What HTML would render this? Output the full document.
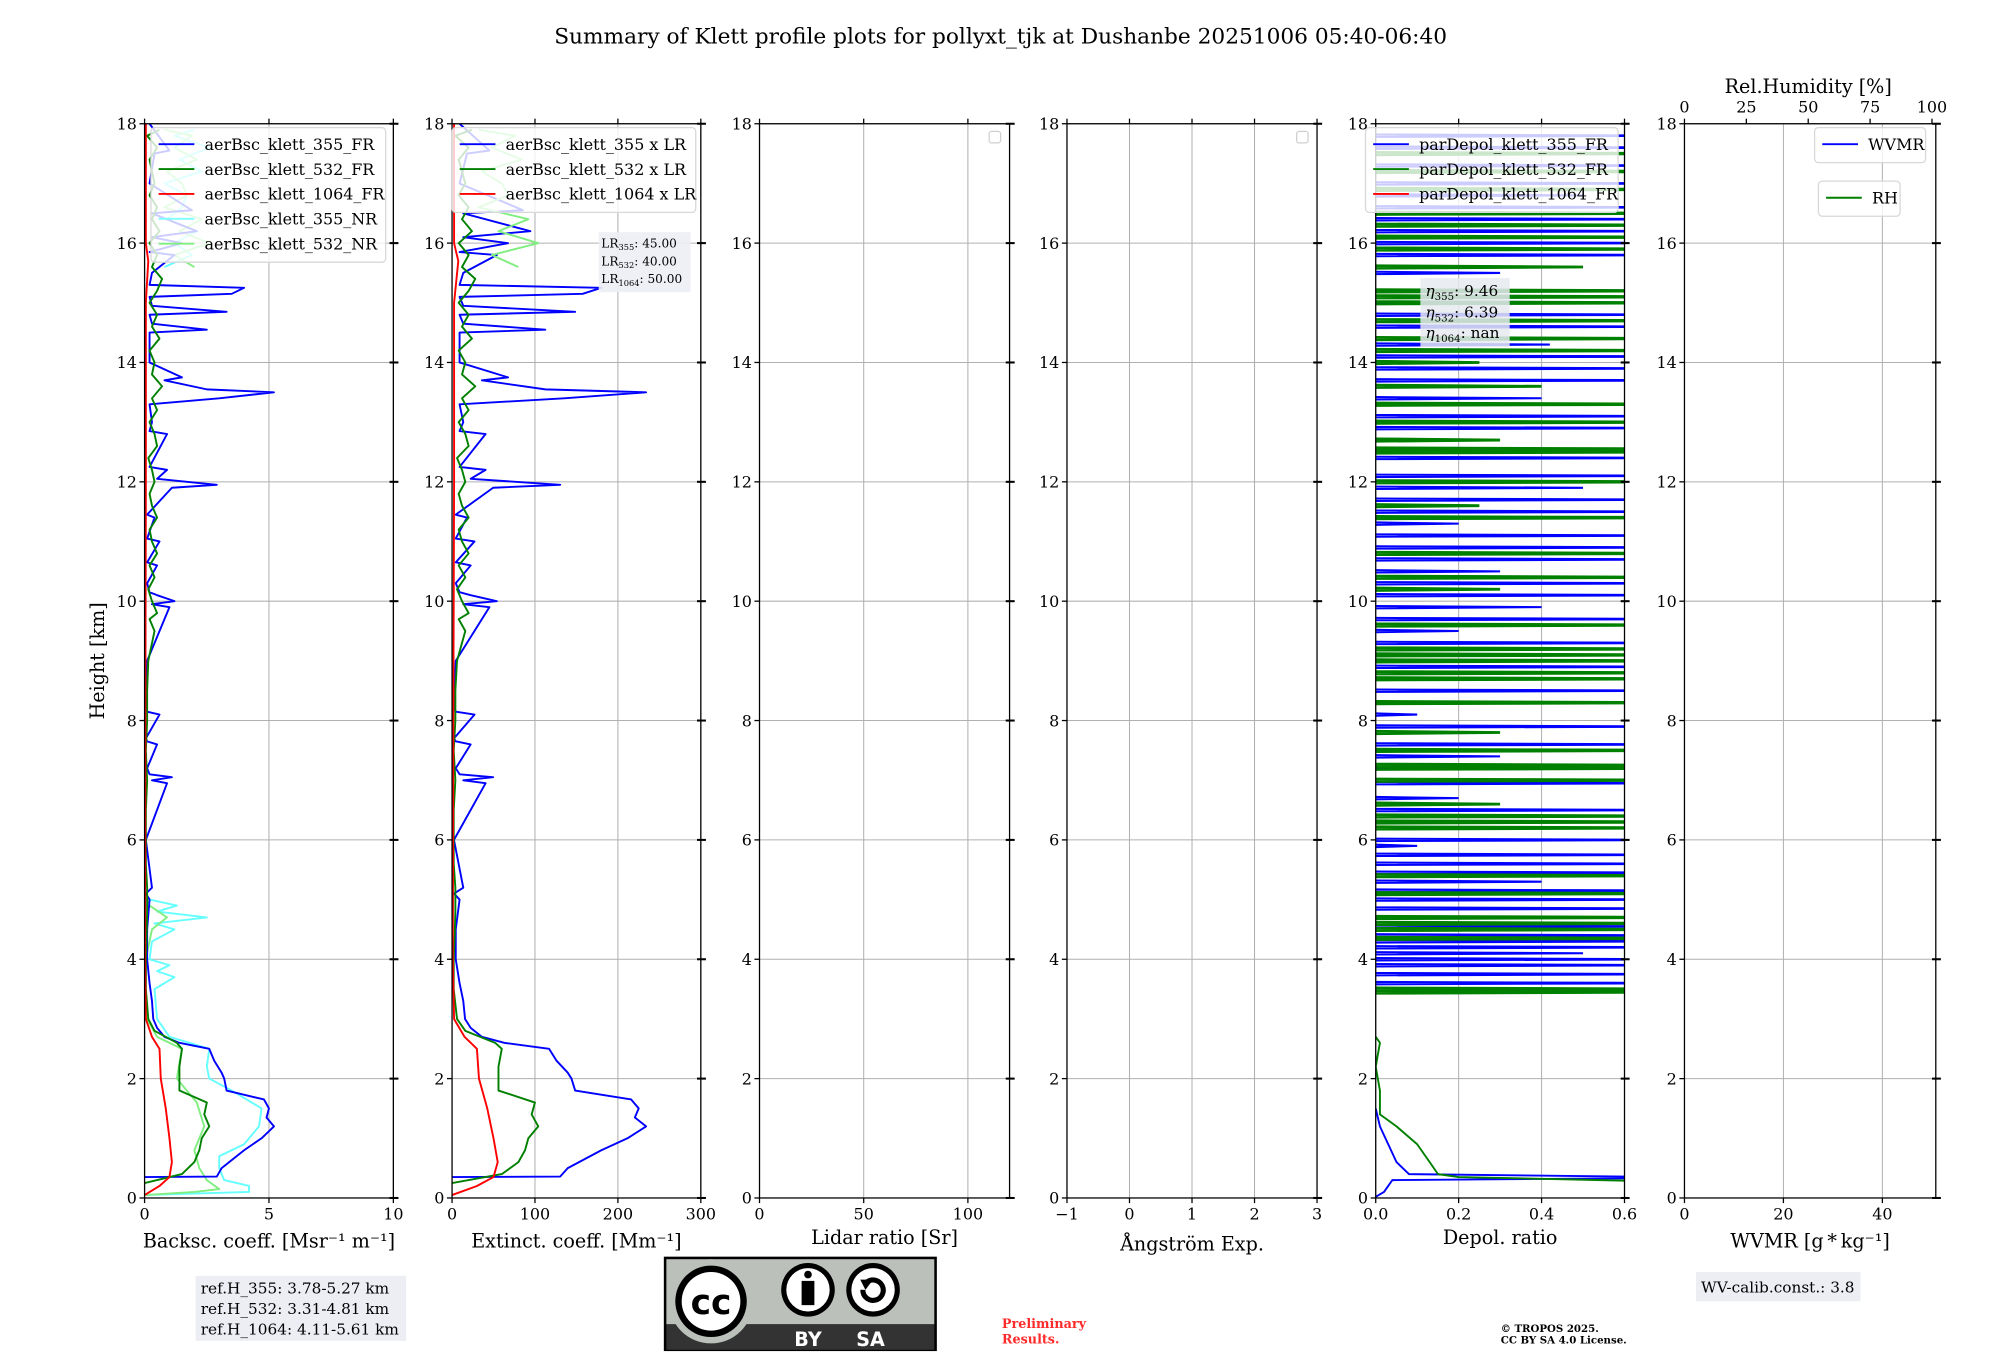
<!DOCTYPE html>
<html><head><meta charset="utf-8"><style>
html,body{margin:0;padding:0;background:#fff;}
svg{display:block;font-family:"DejaVu Serif","Liberation Serif",serif;}
</style></head><body>
<svg id="fig" width="2000" height="1360" viewBox="0 0 1567 1066" xmlns="http://www.w3.org/2000/svg">
<rect x="0" y="0" width="1567" height="1066" fill="#fff"/>
<text x="784" y="34" font-size="17" text-anchor="middle">Summary of Klett profile plots for pollyxt_tjk at Dushanbe 20251006 05:40-06:40</text>
<text transform="translate(81,518) rotate(-90)" font-size="15" text-anchor="middle">Height [km]</text>
<g id="plots"></g>
<g id="over"></g>
</svg>
<script>
// ---- data ----
const bsc355H=[0.35,0.36,0.5,0.8,1.0,1.2,1.35,1.5,1.65,1.8,2.0,2.1,2.3,2.5,2.6,2.7,2.85,3.0,3.3,3.6,4.0,4.5,5.0,5.1,5.2,6.0,6.95,7.0,7.05,7.1,7.2,7.6,7.65,7.7,8.1,8.15,8.2,9.0,9.9,9.95,10.0,10.1,10.15,10.3,10.6,10.65,11.0,11.05,11.4,11.45,11.9,11.95,12.05,12.2,12.25,12.8,12.85,13.0,13.3,13.4,13.5,13.55,13.7,13.75,14.0,14.5,14.55,14.65,14.8,14.85,14.95,15.1,15.15,15.25,15.3,15.5,15.8,15.85,16.0,16.1,16.2,16.5,16.55,17.0,17.5,17.55,18.0];
const bsc355V=[0.0,2.9,3.1,4.0,4.7,5.2,4.9,5.0,4.8,3.3,3.2,3.1,2.8,2.6,1.4,0.8,0.5,0.35,0.3,0.2,0.1,0.1,0.2,0.05,0.3,0.05,0.9,0.3,1.1,0.2,0.1,0.5,0.1,0.05,0.6,0.1,0.05,0.1,1.0,0.3,1.2,0.5,0.2,0.1,0.5,0.1,0.6,0.1,0.4,0.1,1.1,2.9,0.5,0.9,0.2,0.9,0.2,0.3,0.2,3.0,5.2,2.5,0.8,1.5,0.2,0.2,2.5,0.3,0.2,3.3,0.3,0.2,3.5,4.0,0.2,0.3,1.2,0.2,1.5,0.3,2.1,0.3,1.9,0.2,0.4,1.0,0.2];
const bsc532H=[0.25,0.4,0.6,0.8,1.0,1.2,1.4,1.6,1.8,2.0,2.2,2.5,2.6,2.8,3.0,3.5,4.0,4.4,4.8,5.2,5.6,6.0,6.5,7.0,7.5,8.0,8.5,9.0,9.5,9.7,9.8,10.0,10.2,10.4,10.6,10.8,11.0,11.2,11.4,11.6,11.8,12.0,12.2,12.4,12.6,12.8,13.0,13.2,13.4,13.6,13.8,14.0,14.2,14.4,14.6,14.8,15.0,15.2,15.4,15.6,15.8,16.0,16.2,16.4,16.6,16.8,17.0,17.2,17.4,17.6,17.8,17.9];
const bsc532V=[0.0,1.5,2.0,2.2,2.3,2.6,2.4,2.5,1.4,1.4,1.4,1.5,1.3,0.4,0.15,0.05,0.05,0.08,0.1,0.1,0.05,0.05,0.05,0.1,0.05,0.1,0.1,0.15,0.4,0.2,0.5,0.3,0.15,0.4,0.2,0.5,0.3,0.2,0.5,0.3,0.2,0.4,0.3,0.15,0.5,0.4,0.2,0.5,0.3,0.7,0.3,0.4,0.2,0.6,0.3,0.5,0.2,0.5,0.7,0.3,0.5,0.2,0.6,0.3,0.5,0.2,0.4,0.3,0.2,0.5,0.1,0.6];
const bsc1064H=[0.05,0.2,0.35,0.6,1.0,1.5,2.0,2.5,2.7,3.0,4.0,8.0,12.0,15.0,15.7,16.0,18.0];
const bsc1064V=[0.0,0.6,1.0,1.1,1.0,0.85,0.65,0.6,0.3,0.05,0.02,0.03,0.05,0.05,0.15,0.05,0.05];
const nr355H=[0.05,0.1,0.2,0.3,0.5,0.7,0.9,1.2,1.5,1.8,2.0,2.2,2.5,2.7,3.0,3.5,3.7,3.8,3.9,4.0,4.3,4.5,4.6,4.7,4.8,4.9,5.0];
const nr355V=[0.0,4.2,4.2,3.2,3.0,3.0,4.0,4.6,4.7,3.5,2.6,2.5,2.6,1.0,0.5,0.4,1.2,0.5,1.0,0.2,0.3,1.2,0.4,2.5,0.5,1.3,0.2];
const nr532H=[0.05,0.1,0.15,0.3,0.5,0.8,1.2,1.6,2.0,2.5,2.7,3.0,3.5,4.0,4.5,4.7,4.9,5.0];
const nr532V=[0.0,2.0,3.0,2.5,2.2,2.0,2.4,2.1,1.3,1.5,0.5,0.1,0.05,0.05,0.3,0.9,0.2,0.1];
const nrHighH=[15.6,15.8,16.0,16.2,16.4,16.6,16.8,17.0,17.2,17.4,17.6,17.8,17.9];
const nrHighV=[0.8,1.9,1.2,2.1,0.9,1.5,1.7,0.8,2.3,1.4,2.6,1.2,2.0];
const LR355=45, LR532=40, LR1064=50;
const dep355H=[0.02,0.1,0.2,0.3,0.33,0.36,0.4,0.6,0.9,1.2,1.5];
const dep355V=[0.0,0.02,0.03,0.04,0.6,0.6,0.08,0.05,0.03,0.01,0.0];
const dep532H=[0.27,0.29,0.35,0.4,0.6,0.9,1.2,1.4,1.8,2.2,2.6,2.7];
const dep532V=[0.6,0.6,0.2,0.15,0.13,0.1,0.05,0.01,0.01,0.0,0.01,0.0];
const spk355H=[3.6,3.75,3.9,4.0,4.1,4.2,4.3,4.4,4.55,4.7,4.85,5.0,5.15,5.3,5.45,5.6,5.75,5.9,6.0,6.3,6.5,6.7,6.95,7.2,7.4,7.6,7.9,8.1,8.3,8.5,8.7,8.9,9.1,9.3,9.5,9.7,9.9,10.1,10.3,10.5,10.7,10.9,11.1,11.3,11.5,11.7,11.9,12.1,12.4,12.7,12.9,13.1,13.4,13.7,13.9,14.1,14.3,14.6,14.8,15.0,15.2,15.5,15.8,16.0,16.2,16.4,16.6,16.8,17.0,17.3,17.6,17.8];
const spk355V=[0.8,0.8,0.8,0.8,0.5,0.8,0.8,0.8,0.8,0.3,0.8,0.8,0.8,0.4,0.8,0.8,0.8,0.1,0.8,0.5,0.8,0.2,0.8,0.8,0.3,0.8,0.8,0.1,0.8,0.8,0.4,0.8,0.8,0.8,0.2,0.8,0.4,0.8,0.8,0.3,0.8,0.8,0.8,0.2,0.8,0.8,0.5,0.8,0.8,0.2,0.8,0.8,0.4,0.8,0.8,0.8,0.42,0.8,0.8,0.8,0.8,0.3,0.8,0.8,0.8,0.8,0.8,0.5,0.8,0.8,0.8,0.8];
const spk532H=[3.45,3.5,4.35,4.5,4.6,4.7,5.1,5.4,6.2,6.3,6.4,6.6,7.0,7.2,7.25,7.5,7.8,8.3,8.7,8.8,9.0,9.1,9.2,9.6,10.2,10.4,10.8,11.4,11.6,12.0,12.5,12.55,12.7,13.0,13.3,13.6,14.0,14.2,14.4,14.7,15.0,15.1,15.2,15.6,15.9,16.1,16.3,16.5,16.9,17.2,17.5];
const spk532V=[0.8,0.8,0.8,0.8,0.8,0.8,0.8,0.8,0.8,0.8,0.8,0.3,0.8,0.8,0.8,0.8,0.3,0.8,0.8,0.8,0.8,0.8,0.8,0.8,0.3,0.8,0.8,0.8,0.25,0.8,0.8,0.8,0.3,0.8,0.8,0.4,0.25,0.8,0.8,0.8,0.8,0.8,0.8,0.5,0.8,0.8,0.8,0.8,0.8,0.8,0.8];
const yTicks=[0,2,4,6,8,10,12,14,16,18];
const rhTicks=[0,25,50,75,100];

// ---- helpers ----
const NS="http://www.w3.org/2000/svg";
const G=document.getElementById('plots');
const Y0=939, YT=97;
function yS(h){return Y0-h*(Y0-YT)/18;}
function mk(tag,attrs,parent){const e=document.createElementNS(NS,tag);for(const k in attrs)e.setAttribute(k,attrs[k]);(parent||G).appendChild(e);return e;}
const panels=[
 {x0:113,x1:308,min:0,max:10,ticks:[0,5,10],lab:['0','5','10'],name:'backscatter'},
 {x0:354,x1:549,min:0,max:300,ticks:[0,100,200,300],lab:['0','100','200','300'],name:'extinction'},
 {x0:595,x1:791,min:0,max:120,ticks:[0,50,100],lab:['0','50','100'],name:'lidar-ratio'},
 {x0:836,x1:1032,min:-1,max:3,ticks:[-1,0,1,2,3],lab:['\u22121','0','1','2','3'],name:'angstrom'},
 {x0:1078,x1:1273,min:0,max:0.6,ticks:[0,0.2,0.4,0.6],lab:['0.0','0.2','0.4','0.6'],name:'depol'},
 {x0:1320,x1:1517,min:0,max:50.8,ticks:[0,20,40],lab:['0','20','40'],name:'wvmr'}
];
function xS(p,v){return p.x0+(v-p.min)/(p.max-p.min)*(p.x1-p.x0);}
panels.forEach((p,i)=>{
  const g=mk('g',{});
  
  
  p.g=g;
  const cp=mk('clipPath',{id:'clip'+i},g);
  mk('rect',{x:p.x0,y:YT,width:p.x1-p.x0,height:Y0-YT},cp);
  yTicks.forEach(t=>{
    const l=mk('line',{x1:p.x0,x2:p.x1,y1:yS(t),y2:yS(t),stroke:'#b0b0b0','stroke-width':0.8},g);
    
    
  });
  p.ticks.forEach(t=>{
    const l=mk('line',{x1:xS(p,t),x2:xS(p,t),y1:YT,y2:Y0,stroke:'#b0b0b0','stroke-width':0.8},g);
    
    
  });
  p.data=mk('g',{'clip-path':'url(#clip'+i+')'},g);
});
function line(p,H,V,color,w,factor,name,op){
  const f=factor||1;
  const pts=H.map((h,k)=>xS(p,V[k]*f).toFixed(1)+','+yS(h).toFixed(1)).join(' ');
  const e=mk('polyline',{points:pts,fill:'none',stroke:color,'stroke-width':w,'stroke-linejoin':'round',opacity:op||1},p.data);
  
  
}
function spikes(p,H,V,color,w,name){
  H.forEach((h,k)=>{
    const pts=[xS(p,0)+','+yS(h-0.02),xS(p,V[k])+','+yS(h),xS(p,0)+','+yS(h+0.02)].join(' ');
    const e=mk('polyline',{points:pts,fill:'none',stroke:color,'stroke-width':w},p.data);
    
    
  });
}
const P=panels;
line(P[0],nr355H,nr355V,'#66ffff',1.5,1,'bsc-355-nr-line');
line(P[0],nr532H,nr532V,'#80ee80',1.5,1,'bsc-532-nr-line');
line(P[0],nrHighH,nrHighV,'#66ffff',1.5,1,'bsc-355-nr-high-line');
line(P[0],nrHighH,nrHighV.slice().reverse(),'#80ee80',1.5,1,'bsc-532-nr-high-line');
line(P[0],bsc355H,bsc355V,'#0000ff',1.5,1,'bsc-355-fr-line');
line(P[0],bsc532H,bsc532V,'#008000',1.5,1,'bsc-532-fr-line');
line(P[0],bsc1064H,bsc1064V,'#ff0000',1.5,1,'bsc-1064-fr-line');
line(P[1],bsc355H,bsc355V,'#0000ff',1.5,LR355,'ext-355-line');
line(P[1],bsc532H,bsc532V,'#008000',1.5,LR532,'ext-532-line');
line(P[1],nrHighH,nrHighV.slice().reverse(),'#80ee80',1.5,LR532,'ext-532-high-line');
line(P[1],bsc1064H,bsc1064V,'#ff0000',1.5,LR1064,'ext-1064-line');
spikes(P[4],spk355H,spk355V,'#0000ff',1.6,'depol-355-spike');
spikes(P[4],spk532H,spk532V,'#008000',2.2,'depol-532-spike');
line(P[4],dep355H,dep355V,'#0000ff',1.5,1,'depol-355-line');
line(P[4],dep532H,dep532V,'#008000',1.5,1,'depol-532-line');

const xLabels=['Backsc. coeff. [Msr\u207B\u00B9 m\u207B\u00B9]','Extinct. coeff. [Mm\u207B\u00B9]','Lidar ratio [Sr]','\u00C5ngstr\u00F6m Exp.','Depol. ratio','WVMR [g\u2009*\u2009kg\u207B\u00B9]'];
const xLabY=[978,978,975,980,975,978];
panels.forEach((p,i)=>{
  const g=p.g;
  const fr=mk('rect',{x:p.x0,y:YT,width:p.x1-p.x0,height:Y0-YT,fill:'none',stroke:'#000','stroke-width':1},g);
  
  
  yTicks.forEach(t=>{
    mk('line',{x1:p.x0-4,x2:p.x0,y1:yS(t),y2:yS(t),stroke:'#000','stroke-width':1},g);
    mk('line',{x1:p.x1-3,x2:p.x1+4,y1:yS(t),y2:yS(t),stroke:'#000','stroke-width':1.6},g);
    const tx=mk('text',{x:p.x0-6,y:yS(t)+4.5,'font-size':12.5,'text-anchor':'end'},g);
    tx.textContent=t;
    
    
  });
  p.ticks.forEach((t,k)=>{
    mk('line',{x1:xS(p,t),x2:xS(p,t),y1:Y0,y2:Y0+4,stroke:'#000','stroke-width':1},g);
    if(i<5) mk('line',{x1:xS(p,t),x2:xS(p,t),y1:YT-4,y2:YT,stroke:'#000','stroke-width':1},g);
    const tx=mk('text',{x:xS(p,t),y:Y0+17,'font-size':12.5,'text-anchor':'middle'},g);
    tx.textContent=p.lab[k];
    
    
  });
  const xl=mk('text',{x:(p.x0+p.x1)/2,y:xLabY[i],'font-size':15,'text-anchor':'middle'},g);
  xl.textContent=xLabels[i];
  
  
});
rhTicks.forEach(t=>{
  const x=1320+t*(1514-1320)/100;
  mk('line',{x1:x,x2:x,y1:YT-4,y2:YT,stroke:'#000','stroke-width':1},P[5].g);
  const tx=mk('text',{x:x,y:YT-9,'font-size':12.5,'text-anchor':'middle'},P[5].g);
  tx.textContent=t;
  
  
});
const rht=mk('text',{x:1417,y:73,'font-size':15,'text-anchor':'middle'},P[5].g);
rht.textContent='Rel.Humidity [%]';



const O=document.getElementById('over');
function legend(x,y,w,entries,name){
  const g=mk('g',{},O);
  
  
  const h=entries.length*19.5+8;
  mk('rect',{x:x,y:y,width:w,height:h,rx:3,fill:'#fff','fill-opacity':0.8,stroke:'#d8d8d8','stroke-width':1},g);
  entries.forEach((e,k)=>{
    const yy=y+13+k*19.5;
    mk('line',{x1:x+6,x2:x+34,y1:yy,y2:yy,stroke:e[1],'stroke-width':1.5},g);
    const t=mk('text',{x:x+42,y:yy+4.5,'font-size':12.5},g);
    t.textContent=e[0];
    
    
  });
}
legend(118,100,184,[['aerBsc_klett_355_FR','#0000ff'],['aerBsc_klett_532_FR','#008000'],['aerBsc_klett_1064_FR','#ff0000'],['aerBsc_klett_355_NR','#7fffff'],['aerBsc_klett_532_NR','#80ee80']],'backscatter-legend');
legend(354,100,191,[['aerBsc_klett_355 x LR','#0000ff'],['aerBsc_klett_532 x LR','#008000'],['aerBsc_klett_1064 x LR','#ff0000']],'extinction-legend');
legend(1070,100,198,[['parDepol_klett_355_FR','#0000ff'],['parDepol_klett_532_FR','#008000'],['parDepol_klett_1064_FR','#ff0000']],'depol-legend');
legend(1422,100,87,[['WVMR','#0000ff']],'wvmr-legend');
legend(1425,142,64,[['RH','#008000']],'rh-legend');
[[775,103],[1016,103]].forEach(c=>{
  const r=mk('rect',{x:c[0],y:c[1],width:9,height:9,rx:2,fill:'#fff',stroke:'#d0d0d0'},O);
  
  
});
</script>
<svg style="position:absolute;left:0;top:0" width="2000" height="1360" viewBox="0 0 1567 1066" xmlns="http://www.w3.org/2000/svg" font-family="DejaVu Serif, Liberation Serif, serif">
 <g>
  <rect x="469" y="182" width="72" height="47" fill="#eceef4" opacity="0.9"/>
  <text x="471" y="194" font-size="9.5">LR<tspan font-size="6.5" dy="2">355</tspan><tspan dy="-2">: 45.00</tspan></text>
  <text x="471" y="208" font-size="9.5">LR<tspan font-size="6.5" dy="2">532</tspan><tspan dy="-2">: 40.00</tspan></text>
  <text x="471" y="222" font-size="9.5">LR<tspan font-size="6.5" dy="2">1064</tspan><tspan dy="-2">: 50.00</tspan></text>
 </g>
 <g>
  <rect x="1113" y="218" width="70" height="54" fill="#e6eaf0" opacity="0.85"/>
  <text x="1117" y="232" font-size="12"><tspan font-style="italic">η</tspan><tspan font-size="8" dy="3">355</tspan><tspan dy="-3">: 9.46</tspan></text>
  <text x="1117" y="249" font-size="12"><tspan font-style="italic">η</tspan><tspan font-size="8" dy="3">532</tspan><tspan dy="-3">: 6.39</tspan></text>
  <text x="1117" y="265" font-size="12"><tspan font-style="italic">η</tspan><tspan font-size="8" dy="3">1064</tspan><tspan dy="-3">: nan</tspan></text>
 </g>
 <g>
  <rect x="153" y="1000" width="165" height="51" fill="#eceef4"/>
  <text x="157" y="1014" font-size="12">ref.H_355: 3.78-5.27 km</text>
  <text x="157" y="1030" font-size="12">ref.H_532: 3.31-4.81 km</text>
  <text x="157" y="1046" font-size="12">ref.H_1064: 4.11-5.61 km</text>
 </g>
 <g>
  <rect x="1329" y="997" width="129" height="23" fill="#eceef4"/>
  <text x="1333" y="1013" font-size="12">WV-calib.const.: 3.8</text>
 </g>
 <g>
  <rect x="520" y="985" width="214" height="74" fill="#000"/>
  <rect x="522" y="987" width="210" height="51" fill="#bbc0bb"/>
  <rect x="522" y="1038" width="210" height="20" fill="#333"/>
  <circle cx="557" cy="1020" r="33" fill="#bbc0bb"/>
  <circle cx="557" cy="1020" r="28" fill="#000"/>
  <circle cx="557" cy="1020" r="23" fill="#fff"/>
  <text x="557" y="1030" font-size="27" font-weight="bold" text-anchor="middle" font-family="DejaVu Sans, sans-serif">cc</text>
  <circle cx="633" cy="1011" r="21" fill="#000"/>
  <circle cx="633" cy="1011" r="17" fill="#fff"/>
  <circle cx="633" cy="999" r="3" fill="#000"/>
  <rect x="628" y="1004" width="10" height="19" fill="#000"/>
  <circle cx="684" cy="1011" r="21" fill="#000"/>
  <circle cx="684" cy="1011" r="17" fill="#fff"/>
  <path d="M676,1011 a8,8 0 1 0 3,-6" fill="none" stroke="#000" stroke-width="4"/>
  <polygon points="674,1003 684,1003 678,1011" fill="#000"/>
  <text x="633" y="1055" font-size="15" font-weight="bold" fill="#fff" text-anchor="middle" font-family="DejaVu Sans, sans-serif">BY</text>
  <text x="682" y="1055" font-size="15" font-weight="bold" fill="#fff" text-anchor="middle" font-family="DejaVu Sans, sans-serif">SA</text>
 </g>
 <g>
  <text x="785" y="1041" font-size="10" font-weight="bold" fill="#ff2a2a">Preliminary</text>
  <text x="785" y="1053" font-size="10" font-weight="bold" fill="#ff2a2a">Results.</text>
 </g>
 <g>
  <text x="1176" y="1044" font-size="8" font-weight="bold">© TROPOS 2025.</text>
  <text x="1176" y="1053" font-size="8" font-weight="bold">CC BY SA 4.0 License.</text>
 </g>
</svg>
</body></html>
